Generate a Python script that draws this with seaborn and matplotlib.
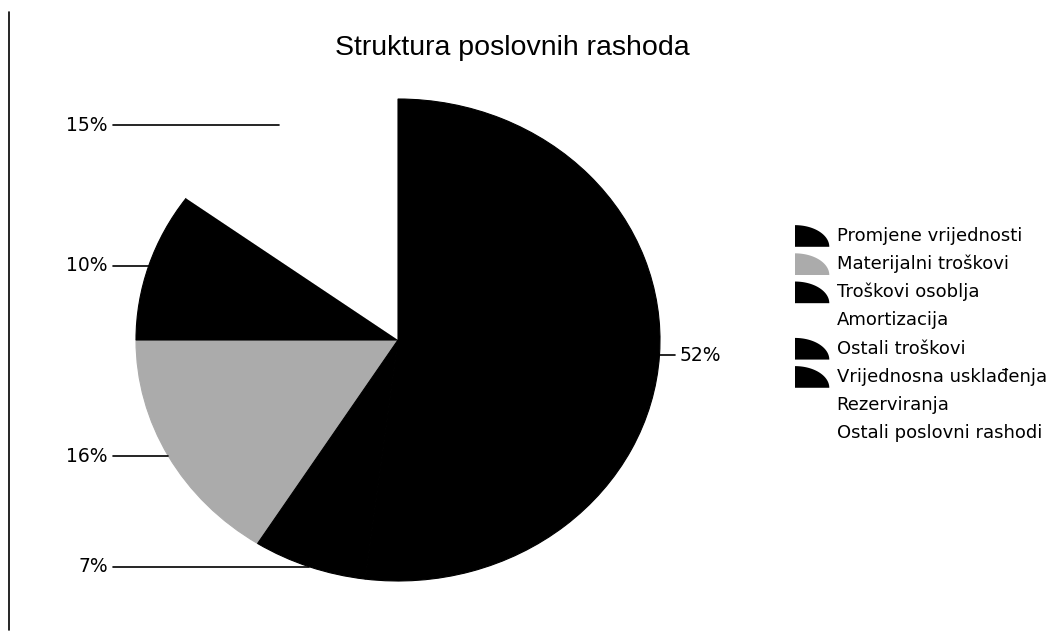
import matplotlib.pyplot as plt
import seaborn as sns
from matplotlib.legend_handler import HandlerPatch
from matplotlib.lines import Line2D
from matplotlib.patches import Patch, Polygon
import numpy as np

categories = [
    "Promjene vrijednosti",
    "Materijalni troškovi",
    "Troškovi osoblja",
    "Amortizacija",
    "Ostali troškovi",
    "Vrijednosna usklađenja",
    "Rezerviranja",
    "Ostali poslovni rashodi",
]
shares = [0, 16, 10, 15, 52, 7, 0, 0]
colors = ["#000000", "#ababab", "#000000", "#ffffff", "#000000", "#000000", "#ffffff", "#ffffff"]

sns.set_theme(style="white")
plt.rcParams["font.family"] = ["DejaVu Sans"]
plt.rcParams["text.color"] = "black"


class QuarterPie(HandlerPatch):
    # excel-style legend key: a quarter of a pie
    def create_artists(self, legend, orig_handle, xdescent, ydescent,
                       width, height, fontsize, trans):
        t = np.linspace(0, np.pi / 2, 30)
        x0, y0 = -xdescent, -ydescent - 0.2 * height
        pts = [(x0, y0)] + [(x0 + width * np.cos(a), y0 + 1.25 * height * np.sin(a)) for a in t]
        p = Polygon(pts, closed=True, facecolor=orig_handle.get_facecolor(),
                    edgecolor="none", transform=trans)
        return [p]


fig = plt.figure(figsize=(10.52, 6.38), dpi=100)
ax = fig.add_axes([136 / 1052, 57 / 638, 524 / 1052, 482 / 638])

wedges, _ = ax.pie(
    shares,
    colors=colors,
    startangle=237.6,
    counterclock=False,
    radius=1,
    wedgeprops=dict(linewidth=0),
)
# hide the antialiasing seam between neighbouring dark slices
for w, c in zip(wedges, colors):
    if c != "#ffffff":
        w.set_edgecolor(c)
        w.set_linewidth(0.8)
ax.set_aspect("auto")
ax.set_xlim(-1, 1)
ax.set_ylim(-1, 1)
ax.axis("off")

# percentage labels with horizontal leader lines
for w, v in zip(wedges, shares):
    if v == 0:
        continue
    mid = np.deg2rad((w.theta1 + w.theta2) / 2)
    xe, ye = np.cos(mid), np.sin(mid)
    if xe < 0:
        ax.plot([-1.088, xe], [ye, ye], color="black", lw=1.2, clip_on=False)
        ax.text(-1.107, ye, f"{v}%", ha="right", va="center", fontsize=13.5, color="black")
    else:
        ax.plot([xe, 1.057], [ye, ye], color="black", lw=1.2, clip_on=False)
        ax.text(1.076, ye, f"{v}%", ha="left", va="center", fontsize=13.5, color="black")

handles = [Patch(facecolor=c, edgecolor="none") for c in colors]
fig.legend(
    handles,
    categories,
    loc="upper left",
    bbox_to_anchor=(795 / 1052, 1 - 226 / 638),
    frameon=False,
    fontsize=13,
    labelcolor="black",
    handlelength=1.9,
    handleheight=1.1,
    handletextpad=0.4,
    labelspacing=0.52,
    borderaxespad=0,
    borderpad=0,
    handler_map={Patch: QuarterPie()},
)

fig.text(512 / 1052, 1 - 48 / 638, "Struktura poslovnih rashoda",
         ha="center", va="center", fontsize=20.5, family="Liberation Sans", color="black")

# scanned page border on the left
fig.add_artist(Line2D([9 / 1052, 9 / 1052], [1 - 12 / 638, 1 - 630 / 638],
                      transform=fig.transFigure, color="black", lw=1.2))

fig.savefig("out.png", dpi=100, facecolor="white")
